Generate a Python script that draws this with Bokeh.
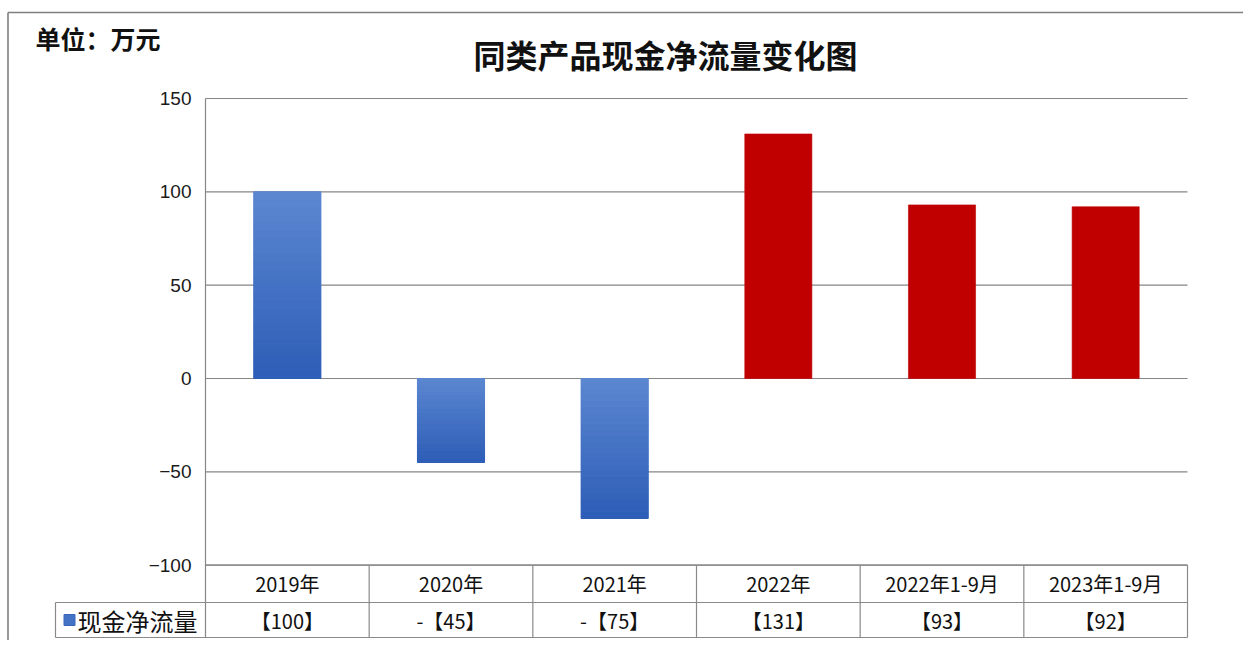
import numpy as np
from bokeh.plotting import figure
from bokeh.models import Range1d
from bokeh.core.properties import value
from bokeh.embed import file_html
from bokeh.resources import INLINE

# ---------------- data ----------------
categories = ["2019年", "2020年", "2021年", "2022年", "2022年1-9月", "2023年1-9月"]
cash_flow = [100, -45, -75, 131, 93, 92]
value_labels = ["【100】", "-【45】", "-【75】", "【131】", "【93】", "【92】"]
series_name = "现金净流量"
y_ticks = [-100, -50, 0, 50, 100, 150]
y_tick_labels = ["−100", "−50", "0", "50", "100", "150"]
chart_title = "同类产品现金净流量变化图"
unit_label = "单位：万元"

# ---------------- styles ----------------
bar_kind = ["blue", "blue", "blue", "red", "red", "red"]
BLUE_TOP = np.array([0x5C, 0x87, 0xD1])
BLUE_BOT = np.array([0x2D, 0x5D, 0xB6])
RED = "#C00000"
GRID = "#868686"
CJK = "Noto Sans CJK SC"

# ---------------- layout (pixels in canvas) ----------------
W, H = 1243, 640
X0_PX, X6_PX = 205.0, 1187.0           # plot area left / right
Y0_PX = 378.0                           # zero line
UX = (X6_PX - X0_PX) / len(categories)
UY = 280.0 / 150.0

def dx(px):
    return (px - X0_PX) / UX

def dy(py):
    return (Y0_PX - py) / UY

p = figure(width=W, height=H,
           x_range=Range1d(dx(0), dx(W)), y_range=Range1d(dy(H), dy(0)),
           output_backend="svg", toolbar_location=None, title=None,
           x_axis_location=None, y_axis_location=None, min_border=0)
p.grid.grid_line_color = None
p.outline_line_color = None
p.background_fill_color = "white"
p.border_fill_color = "white"

n = len(categories)
xc = [i + 0.5 for i in range(n)]
ymin, ymax = min(y_ticks), max(y_ticks)

# gridlines
p.segment(x0=[0] * len(y_ticks), x1=[n] * len(y_ticks), y0=y_ticks, y1=y_ticks,
          line_color=GRID, line_width=1.2)
row1_bot = dy(602)
row2_bot = dy(637)
# left axis line through table
p.segment(x0=[0], x1=[0], y0=[ymax], y1=[row2_bot], line_color=GRID, line_width=1.2)

# bars
BAR_W = 0.41
NS = 24
gx, gb, gt, gc = [], [], [], []
bx, bt = [], []
rx, rt = [], []
for i, v in enumerate(cash_flow):
    if bar_kind[i] == "blue":
        bx.append(xc[i]); bt.append(v)
        for k in range(NS):
            b = v * k / NS
            t = v * (k + 1) / NS
            frac = (k + 0.5) / NS
            pos = (1 - frac) if v > 0 else frac   # 0 = top of bar
            c = BLUE_TOP + (BLUE_BOT - BLUE_TOP) * pos
            gx.append(xc[i]); gb.append(b); gt.append(t)
            gc.append("#%02x%02x%02x" % tuple(int(round(z)) for z in c))
    else:
        rx.append(xc[i]); rt.append(v)

p.vbar(x=bx, bottom=0, top=bt, width=BAR_W, fill_color="#4472C4", line_color=None)
p.vbar(x=gx, bottom=gb, top=gt, width=BAR_W, fill_color=gc, line_color=gc, line_width=1.0)
p.vbar(x=rx, bottom=0, top=rt, width=BAR_W, fill_color=RED, line_color=RED, line_width=0.6)

# y tick labels
p.text(x=[dx(191)] * len(y_ticks), y=y_ticks, text=y_tick_labels,
       text_font=value("Liberation Sans"), text_font_size="19px", text_color="#1a1a1a",
       text_align="right", text_baseline="middle")

# data table
TBL = "#8a8a8a"
left_cell = dx(55)
p.segment(x0=[0, left_cell, left_cell], x1=[n, n, n],
          y0=[ymin, row1_bot, row2_bot], y1=[ymin, row1_bot, row2_bot],
          line_color=TBL, line_width=1.2)
vx = list(range(1, n + 1))
p.segment(x0=vx, x1=vx, y0=[ymin] * n, y1=[row2_bot] * n, line_color=TBL, line_width=1.2)
p.segment(x0=[left_cell], x1=[left_cell], y0=[row1_bot], y1=[row2_bot],
          line_color=TBL, line_width=1.2)

row1_mid = (ymin + row1_bot) / 2
row2_mid = (row1_bot + row2_bot) / 2
p.text(x=xc, y=[row1_mid] * n, text=categories, text_font=value(CJK),
       text_font_size="20px", text_color="#111111", text_align="center",
       text_baseline="middle")
p.text(x=xc, y=[row2_mid] * n, text=value_labels, text_font=value(CJK),
       text_font_size="20px", text_color="#111111", text_align="center",
       text_baseline="middle")
# legend key + series name
p.scatter(x=[dx(69)], y=[row2_mid], marker="square", size=11,
          fill_color="#4472C4", line_color="#3a66b8")
p.text(x=[dx(77)], y=[row2_mid], text=[series_name], text_font=value(CJK),
       text_font_size="24px", text_color="#111111", text_align="left",
       text_baseline="middle")

# titles
p.text(x=[dx(665)], y=[dy(53)], text=[chart_title], text_font=value(CJK),
       text_font_size="32px", text_font_style="bold", text_color="#111111",
       text_align="center", text_baseline="middle")
p.text(x=[dx(35)], y=[dy(37)], text=[unit_label], text_font=value(CJK),
       text_font_size="25px", text_font_style="bold", text_color="#111111",
       text_align="left", text_baseline="middle")

# outer frame (top and left edges)
p.segment(x0=[dx(7.5), dx(7.5)], x1=[dx(W), dx(7.5)], y0=[dy(12), dy(12)], y1=[dy(12), dy(H)],
          line_color="#7f7f7f", line_width=1.6)

open("out.html", "w").write(file_html(p, INLINE))
